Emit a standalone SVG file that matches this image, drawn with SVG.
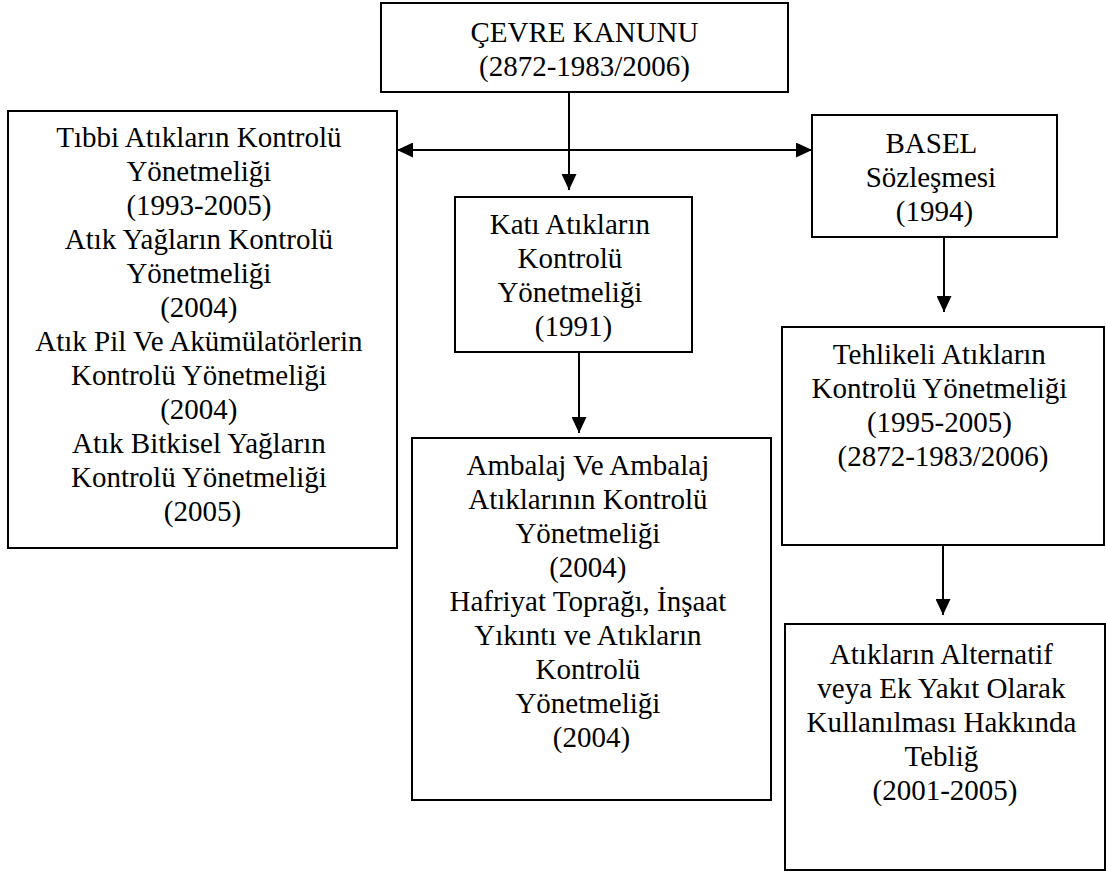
<svg xmlns="http://www.w3.org/2000/svg" width="1106" height="874" viewBox="0 0 1106 874">
  <style>
    .box { fill: #ffffff; stroke: #000000; stroke-width: 2; }
    .lbl { font-family: "Liberation Serif", "Times New Roman", serif; font-size: 29px; fill: #000000; text-anchor: middle; }
    .wire { stroke: #000000; stroke-width: 2; fill: none; }
  </style>
  <defs>
    <marker id="head" viewBox="0 0 16 15" refX="16" refY="7.5" markerWidth="16" markerHeight="15" markerUnits="userSpaceOnUse" orient="auto-start-reverse">
      <path d="M0,0 L16,7.5 L0,15 z" fill="#000000"/>
    </marker>
  </defs>
  <rect width="1106" height="874" fill="#ffffff"/>

  <g id="connectors">
    <line class="wire" x1="397" y1="150" x2="812" y2="150" marker-start="url(#head)" marker-end="url(#head)"/>
    <line class="wire" x1="569" y1="92" x2="569" y2="190" marker-end="url(#head)"/>
    <line class="wire" x1="579" y1="352" x2="579" y2="433" marker-end="url(#head)"/>
    <line class="wire" x1="944" y1="237" x2="944" y2="312" marker-end="url(#head)"/>
    <line class="wire" x1="943" y1="545" x2="943" y2="615" marker-end="url(#head)"/>
  </g>

  <g id="cevre-kanunu">
    <rect class="box" x="381" y="3" width="407" height="89"/>
    <text class="lbl"><tspan x="584.5" y="42">ÇEVRE KANUNU</tspan><tspan x="584.5" y="76">(2872-1983/2006)</tspan></text>
  </g>

  <g id="atik-yonetmelikleri">
    <rect class="box" x="8" y="111" width="389" height="437"/>
    <text class="lbl">
      <tspan x="202.5" y="147">Tıbbi Atıkların Kontrolü</tspan>
      <tspan x="202.5" y="181">Yönetmeliği</tspan>
      <tspan x="202.5" y="215">(1993-2005)</tspan>
      <tspan x="202.5" y="249">Atık Yağların Kontrolü</tspan>
      <tspan x="202.5" y="283">Yönetmeliği</tspan>
      <tspan x="202.5" y="317">(2004)</tspan>
      <tspan x="202.5" y="351">Atık Pil Ve Akümülatörlerin</tspan>
      <tspan x="202.5" y="385">Kontrolü Yönetmeliği</tspan>
      <tspan x="202.5" y="419">(2004)</tspan>
      <tspan x="202.5" y="453">Atık Bitkisel Yağların</tspan>
      <tspan x="202.5" y="487">Kontrolü Yönetmeliği</tspan>
      <tspan x="202.5" y="521">(2005)</tspan>
    </text>
  </g>

  <g id="kati-atiklar">
    <rect class="box" x="455" y="197" width="237" height="155"/>
    <text class="lbl">
      <tspan x="573.5" y="234">Katı Atıkların</tspan>
      <tspan x="573.5" y="268">Kontrolü</tspan>
      <tspan x="573.5" y="302">Yönetmeliği</tspan>
      <tspan x="573.5" y="336">(1991)</tspan>
    </text>
  </g>

  <g id="ambalaj">
    <rect class="box" x="412" y="438" width="359" height="362"/>
    <text class="lbl">
      <tspan x="591.5" y="475">Ambalaj Ve Ambalaj</tspan>
      <tspan x="591.5" y="509">Atıklarının Kontrolü</tspan>
      <tspan x="591.5" y="543">Yönetmeliği</tspan>
      <tspan x="591.5" y="577">(2004)</tspan>
      <tspan x="591.5" y="611">Hafriyat Toprağı, İnşaat</tspan>
      <tspan x="591.5" y="645">Yıkıntı ve Atıkların</tspan>
      <tspan x="591.5" y="679">Kontrolü</tspan>
      <tspan x="591.5" y="713">Yönetmeliği</tspan>
      <tspan x="591.5" y="747">(2004)</tspan>
    </text>
  </g>

  <g id="basel">
    <rect class="box" x="812" y="115" width="245" height="122"/>
    <text class="lbl">
      <tspan x="934.5" y="153">BASEL</tspan>
      <tspan x="934.5" y="187">Sözleşmesi</tspan>
      <tspan x="934.5" y="221">(1994)</tspan>
    </text>
  </g>

  <g id="tehlikeli-atiklar">
    <rect class="box" x="782" y="327" width="322" height="218"/>
    <text class="lbl">
      <tspan x="943" y="364">Tehlikeli Atıkların</tspan>
      <tspan x="943" y="398">Kontrolü Yönetmeliği</tspan>
      <tspan x="943" y="432">(1995-2005)</tspan>
      <tspan x="943" y="466">(2872-1983/2006)</tspan>
    </text>
  </g>

  <g id="alternatif-yakit">
    <rect class="box" x="785" y="624" width="320" height="246"/>
    <text class="lbl">
      <tspan x="945" y="664">Atıkların Alternatif</tspan>
      <tspan x="945" y="698">veya Ek Yakıt Olarak</tspan>
      <tspan x="945" y="732">Kullanılması Hakkında</tspan>
      <tspan x="945" y="766">Tebliğ</tspan>
      <tspan x="945" y="800">(2001-2005)</tspan>
    </text>
  </g>
</svg>
